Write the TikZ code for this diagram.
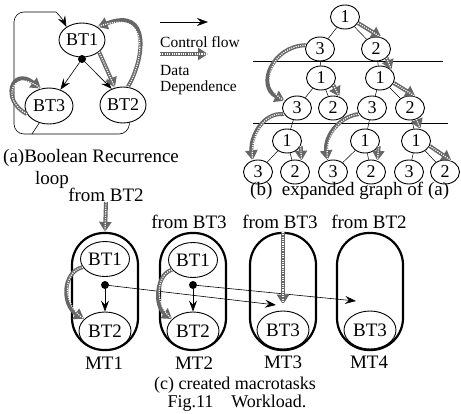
\documentclass[tikz,border=0pt]{standalone}
\usepackage{fontspec}
\setmainfont{Liberation Serif}
\usetikzlibrary{shapes.geometric,arrows.meta}
\tikzset{
  el/.style={ellipse, draw, line width=0.9pt, inner sep=0pt},
  bt/.style={el, minimum width=46pt, minimum height=34pt, font=\fontsize{18}{18}\selectfont},
  btc/.style={el, minimum width=49pt, minimum height=35pt, font=\fontsize{19}{19}\selectfont},
  tn/.style={el, minimum width=29pt, minimum height=24pt, font=\fontsize{18}{18}\selectfont},
  dot/.style={circle, fill, inner sep=0pt, minimum size=8pt},
  ctrl/.style={line width=0.6pt, -{Stealth[length=11pt,width=8pt,inset=4pt]}},
  data/.style={draw=black!60, line width=4pt, -{Triangle[length=10pt,width=12pt]},
    postaction={draw=white, line width=1.3pt, dash pattern=on 1.1pt off 1.2pt, -}},
  tree/.style={line width=0.5pt},
  legtxt/.style={inner sep=0pt, font=\fontsize{15.5}{16}\selectfont},
  captxt/.style={inner sep=0pt, font=\fontsize{19}{19}\selectfont},
  capsule/.style={draw, line width=2.2pt, rounded corners=32pt, minimum width=66pt,
    minimum height=117pt, inner sep=0pt}
}
\begin{document}
\begin{tikzpicture}[x=1pt,y=-1pt]
\fill[white] (0,0) rectangle (461,413);
\useasboundingbox (0,0) rectangle (461,413);

% ---------- (a) Boolean recurrence loop ----------
\node[bt] (a1) at (82,40) {BT1};
\node[bt, minimum width=48pt, minimum height=36pt] (a3) at (49,106) {BT3};
\node[bt, minimum height=36pt] (a2) at (123,105) {BT2};
\node[dot] (ad) at (82,59) {};
\draw[ctrl] (ad) -- (a3.55);
\draw[ctrl] (ad) -- (a2.125);
\coordinate (abr) at (129,134);
\coordinate (abl) at (14,134);
\coordinate (atl) at (14,12);
\coordinate (atm) at (46,12);
\draw[ctrl, rounded corners=10pt] (a2.-70) -- (abr) -- (abl) -- (atl) -- (atm)
  .. controls (56,12) and (62,18) .. (a1.140);
\coordinate (a3j) at (32,134);
\draw[line width=0.6pt] (a3.-120) -- (a3j);
\draw[data] (a1.-35) -- (a2.115);
\draw[data] (a2.75) .. controls (144,60) and (152,6) .. (a1.40);
\draw[data] (a3.200) .. controls (0,100) and (12,66) .. (a3.115);

\node[captxt, anchor=west] (capa) at (3,158) {(a)Boolean Recurrence};
\node[captxt, anchor=west] (capa2) at (35,180) {loop};

% ---------- legend ----------
\coordinate (l1s) at (160,22); \coordinate (l1e) at (208,22);
\draw[ctrl] (l1s) -- (l1e);
\node[legtxt, anchor=west] (lcf) at (160,42) {Control flow};
\coordinate (l2s) at (160,54); \coordinate (l2e) at (208,54);
\draw[data] (l2s) -- (l2e);
\node[legtxt, anchor=west] (ld1) at (160,70) {Data};
\node[legtxt, anchor=west] (ld2) at (160,88) {Dependence};

% ---------- (b) expanded graph ----------
\node[tn] (t0) at (345,17) {1};
\node[tn] (t1a) at (320,49) {3};
\node[tn] (t1b) at (376,49) {2};
\node[tn] (t2a) at (321,78) {1};
\node[tn] (t2b) at (380,78) {1};
\node[tn] (t3a) at (297,108) {3};
\node[tn] (t3b) at (333,108) {2};
\node[tn] (t3c) at (372,108) {3};
\node[tn] (t3d) at (410,108) {2};
\node[tn] (t4a) at (287,141) {1};
\node[tn] (t4b) at (365,141) {1};
\node[tn] (t4c) at (416,141) {1};
\node[tn] (t5a) at (258,172) {3};
\node[tn] (t5b) at (295,172) {2};
\node[tn] (t5c) at (333,172) {3};
\node[tn] (t5d) at (371,172) {2};
\node[tn] (t5e) at (409,172) {3};
\node[tn] (t5f) at (445,172) {2};

\coordinate (h1l) at (253,61); \coordinate (h1r) at (443,61);
\coordinate (h2l) at (253,123); \coordinate (h2r) at (448,123);
\draw[tree] (h1l) -- (h1r);
\draw[tree] (h2l) -- (h2r);

\foreach \u/\v in {t0/t1a,t0/t1b,t1a/t2a,t1b/t2b,t2a/t3a,t2a/t3b,t2b/t3c,t2b/t3d,
                   t3a/t4a,t3c/t4b,t3d/t4c,t4a/t5a,t4a/t5b,t4b/t5c,t4b/t5d,t4c/t5e,t4c/t5f}
  \draw[tree] (\u) -- (\v);

\draw[data] (t0.-25) -- (t1b.65);
\draw[data] (t1b.-40) -- (t2b.35);
\draw[data] (t2b.-20) -- (t3d.65);
\draw[data] (t1a.165) .. controls (272,46) and (256,86) .. (t3a.150);
\draw[data] (t2a.-30) -- (t3b.60);
\draw[data] (t3a.205) .. controls (262,112) and (250,138) .. (t5a.115);
\draw[data] (t3c.205) .. controls (340,116) and (324,136) .. (t5c.115);
\draw[data] (t3d.-60) -- (t4c.70);
\draw[data] (t4a.-20) -- (t5b.60);
\draw[data] (t4b.-20) -- (t5d.60);
\draw[data] (t4c.-20) -- (t5f.60);

\node[captxt, anchor=west] (capb) at (250,191) {(b)\ \ expanded graph of (a)};

% ---------- (c) created macrotasks ----------
\node[capsule] (mt1) at (105,291.5) {};
\node[capsule] (mt2) at (193,291.5) {};
\node[capsule] (mt3) at (283,291.5) {};
\node[capsule] (mt4) at (370,291.5) {};

\node[btc] (c1a) at (105,259) {BT1};
\node[btc, minimum width=52pt, minimum height=38pt] (c1b) at (105,331) {BT2};
\node[dot] (c1d) at (105,285) {};
\node[btc] (c2a) at (193,260) {BT1};
\node[btc, minimum width=52pt, minimum height=38pt] (c2b) at (193,331) {BT2};
\node[dot] (c2d) at (193,285) {};
\node[btc, minimum width=52pt, minimum height=38pt] (c3) at (283,330) {BT3};
\node[btc, minimum width=52pt, minimum height=38pt] (c4) at (370,330) {BT3};

\draw[ctrl] (c1d) -- (c1b);
\draw[ctrl] (c2d) -- (c2b);
\coordinate (c3in) at (276,305);
\coordinate (c4in) at (356,301);
\draw[ctrl] (c1d) -- (c3in);
\draw[ctrl] (c2d) -- (c4in);

\draw[data] (c1a.200) .. controls (62,272) and (62,305) .. (c1b.150);
\draw[data] (c2a.205) .. controls (156,274) and (154,306) .. (c2b.150);

\node[captxt] (f1) at (106,195) {from BT2};
\node[captxt] (f2) at (189,222) {from BT3};
\node[captxt] (f3) at (280,222) {from BT3};
\node[captxt] (f4) at (369,222) {from BT2};
\draw[data] (f1.south) -- (mt1.north);
\draw[data, shorten >=6pt] (mt3.north) -- (c3.north);

\node[captxt] (m1) at (104,363) {MT1};
\node[captxt] (m2) at (194,363) {MT2};
\node[captxt] (m3) at (283,362) {MT3};
\node[captxt] (m4) at (369,362) {MT4};
\node[captxt, font=\fontsize{18}{18}\selectfont] (capc) at (235,385) {(c) created macrotasks};
\node[captxt, font=\fontsize{18}{18}\selectfont] (fig) at (237,403) {Fig.11\quad Workload.};
\end{tikzpicture}
\end{document}
